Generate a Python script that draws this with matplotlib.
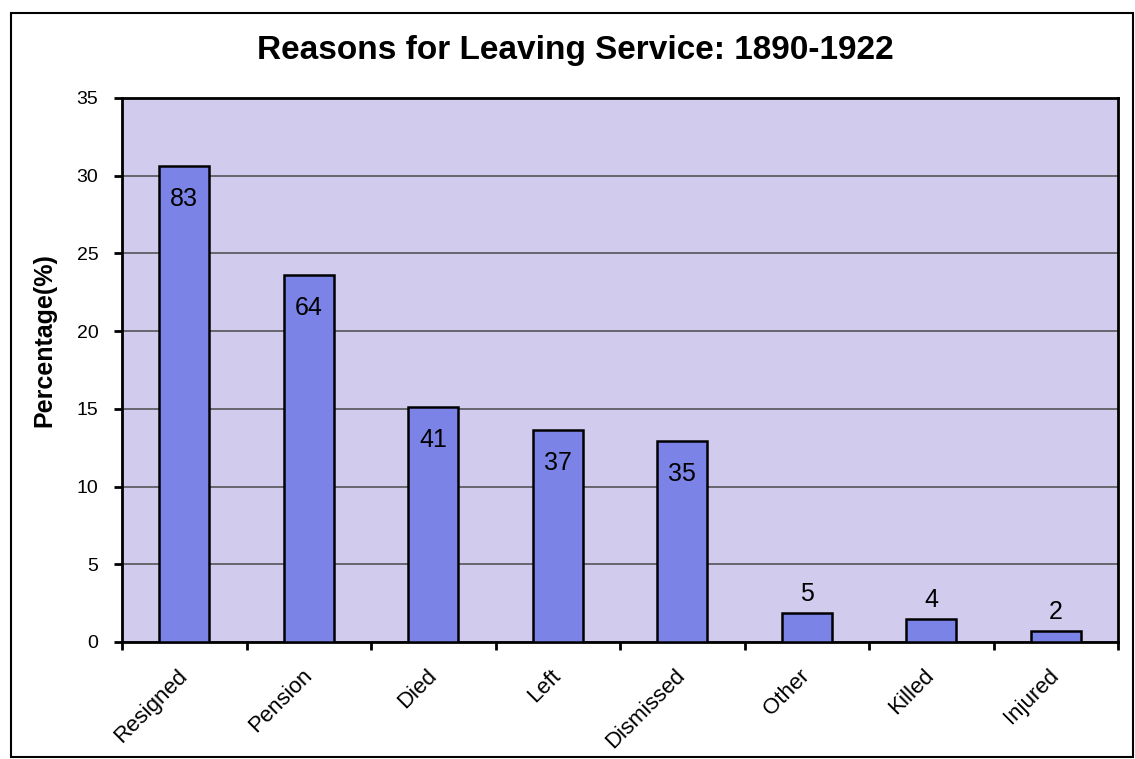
import numpy as np
import matplotlib.pyplot as plt
from matplotlib.patches import Rectangle

plt.rcParams['font.family'] = ['Liberation Sans', 'DejaVu Sans']

reasons = ['Resigned', 'Pension', 'Died', 'Left', 'Dismissed', 'Other', 'Killed', 'Injured']
counts = [83, 64, 41, 37, 35, 5, 4, 2]

percent = [c / sum(counts) * 100 for c in counts]

BAR_COLOUR = '#7b84e6'
PLOT_BG = '#d1ccee'

fig = plt.figure(figsize=(11.35, 7.59), dpi=100)
ax = fig.add_axes([122 / 1135, 1 - 642 / 759, 996 / 1135, 544 / 759])
ax.set_facecolor(PLOT_BG)

x = np.arange(len(reasons))
ax.bar(x, percent, width=0.4, color=BAR_COLOUR, edgecolor='black', linewidth=1.8, zorder=3)

# counts written inside the big bars, above the small ones
for xi, p, c in zip(x, percent, counts):
    if p > 5:
        ax.annotate(str(c), (xi, p), xytext=(0, -15), textcoords='offset points',
                    ha='center', va='top', fontsize=18, zorder=4)
    else:
        ax.annotate(str(c), (xi, p), xytext=(0, 5), textcoords='offset points',
                    ha='center', va='bottom', fontsize=18, zorder=4)

ax.set_xlim(-0.5, len(reasons) - 0.5)
ax.set_ylim(0, 35)
ax.set_yticks(np.arange(0, 36, 5))
ax.yaxis.grid(True, color='#4a4a4a', linewidth=1.1, zorder=1)

ax.set_xticks(x)
ax.set_xticklabels(reasons, rotation=45, ha='right', va='center',
                   rotation_mode='anchor', fontsize=16)
ax.set_xticks(np.arange(-0.5, len(reasons)), minor=True)
ax.tick_params(axis='x', which='major', length=0, pad=22)
ax.tick_params(axis='x', which='minor', length=6, width=2, direction='out')
ax.tick_params(axis='y', length=6, width=2, direction='out', labelsize=14, pad=11)

for side in ax.spines.values():
    side.set_linewidth(2)

ax.set_ylabel('Percentage(%)', fontsize=18, fontweight='bold')
ax.yaxis.set_label_coords(-0.066, 0.555)
fig.text(575 / 1135, 1 - 51 / 759, 'Reasons for Leaving Service: 1890-1922',
         ha='center', va='center', fontsize=24, fontweight='bold')

# outer chart border
fig.patches.append(Rectangle((11 / 1135, 1 - 757 / 759), 1122 / 1135, 744 / 759,
                             transform=fig.transFigure, fill=False,
                             edgecolor='black', linewidth=1.5))

fig.savefig('out.png', dpi=100)
